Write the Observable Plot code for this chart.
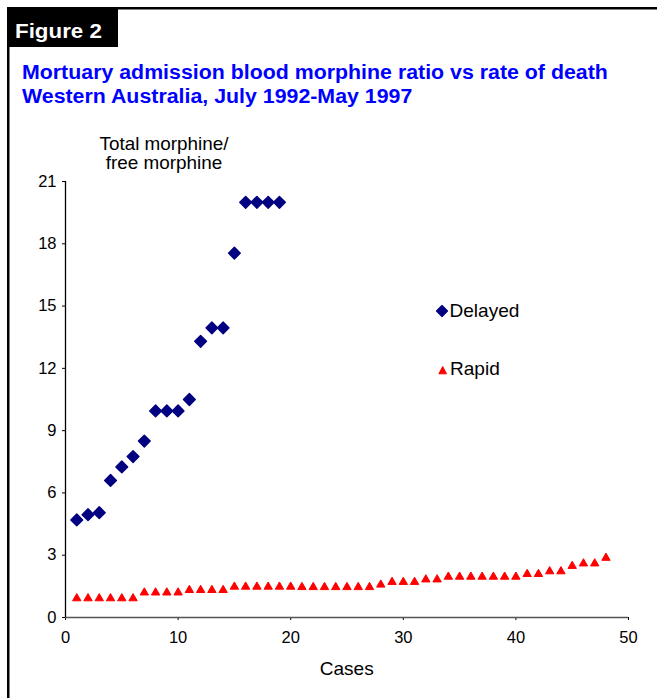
<!DOCTYPE html>
<html><head><meta charset="utf-8">
<script src="https://cdn.jsdelivr.net/npm/d3@7"></script>
<script src="https://cdn.jsdelivr.net/npm/@observablehq/plot@0.6"></script>
<style>
body{margin:0;background:#fff;}
#wrap{position:relative;width:657px;height:698px;overflow:hidden;font-family:"Liberation Sans",Arial,sans-serif;}
#chart{position:absolute;left:0;top:0;}
#overlay{position:absolute;left:0;top:0;pointer-events:none;}
</style></head>
<body>
<div id="wrap"><div id="chart"></div>
<svg id="overlay" width="657" height="698" xmlns="http://www.w3.org/2000/svg" font-family="Liberation Sans, Arial, sans-serif">
  <rect x="7" y="7" width="650" height="2.5" fill="#000"/>
  <rect x="7" y="7" width="2.5" height="691" fill="#000"/>
  <rect x="7" y="7" width="111" height="40" fill="#000"/>
  <text transform="translate(15,37.5) scale(1.09,1)" fill="#fff" font-weight="bold" font-size="20.5">Figure 2</text>
  <text transform="translate(22,79) scale(1.095,1)" fill="#0000ff" font-weight="bold" font-size="19.5">Mortuary admission blood morphine ratio vs rate of death</text>
  <text transform="translate(22,103) scale(1.095,1)" fill="#0000ff" font-weight="bold" font-size="19.5">Western Australia, July 1992-May 1997</text>
  <text transform="translate(164,150) scale(1.08,1)" text-anchor="middle" fill="#000" font-size="17.5">Total morphine/</text>
  <text transform="translate(164,169) scale(1.08,1)" text-anchor="middle" fill="#000" font-size="17.5">free morphine</text>
  <text transform="translate(346.7,675) scale(1.09,1)" text-anchor="middle" fill="#000" font-size="17.5">Cases</text>
  <path d="M442,305.5L447.5,311L442,316.5L436.5,311Z" fill="#000080" stroke="#000080" stroke-width="1.2" stroke-linejoin="round"/>
  <text transform="translate(449.5,316.5) scale(1.09,1)" fill="#000" font-size="17.5">Delayed</text>
  <path d="M442.7,366.5L446.5,373.8L438.9,373.8Z" fill="#ff0000" stroke="#ff0000" stroke-width="1" stroke-linejoin="round"/>
  <text transform="translate(450,375) scale(1.09,1)" fill="#000" font-size="17.5">Rapid</text>
</svg>
</div>
<script>
// Delayed death cases
const delayedCase = [1,2,3,4,5,6,7,8,9,10,11,12,13,14,15,16,17,18,19];
const delayedRatio = [4.7,4.95,5.05,6.6,7.25,7.75,8.5,9.95,9.95,9.95,10.5,13.3,13.95,13.95,17.55,20,20,20,20];
// Rapid death cases
const rapidCase = [1,2,3,4,5,6,7,8,9,10,11,12,13,14,15,16,17,18,19,20,21,22,23,24,25,26,27,28,29,30,31,32,33,34,35,36,37,38,39,40,41,42,43,44,45,46,47,48];
const rapidRatio = [0.92,0.92,0.92,0.92,0.92,0.92,1.2,1.2,1.2,1.2,1.32,1.32,1.32,1.32,1.48,1.48,1.48,1.48,1.48,1.48,1.46,1.46,1.46,1.46,1.46,1.46,1.46,1.58,1.71,1.71,1.71,1.83,1.83,1.96,1.96,1.96,1.96,1.96,1.96,1.96,2.09,2.09,2.22,2.22,2.48,2.6,2.6,2.87];
const xTicks = [0,10,20,30,40,50];
const yTicks = [0,3,6,9,12,15,18,21];

const delayed = delayedCase.map((c,i)=>({case:c, ratio:delayedRatio[i]}));
const rapid = rapidCase.map((c,i)=>({case:c, ratio:rapidRatio[i]}));

const chart = Plot.plot({
  width: 657, height: 698,
  marginLeft: 65, marginRight: 29, marginTop: 181, marginBottom: 81,
  style: {fontFamily: "Liberation Sans, Arial, sans-serif", fontSize: "16.5px", color: "#000", background: "transparent"},
  x: {domain: [0,50], ticks: xTicks, tickSize: 3, tickPadding: 11, label: null},
  y: {domain: [0,21], ticks: yTicks, tickSize: 3, tickPadding: 6, label: null},
  marks: [
    Plot.ruleY([0], {x1: 0, x2: 50, stroke: "#555", strokeWidth: 1.3}),
    Plot.ruleX([0], {y1: 0, y2: 21, stroke: "#000", strokeWidth: 1.3}),
    Plot.dot(rapid, {x: "case", y: "ratio", symbol: "triangle", r: 3.1, fill: "#ff0000", stroke: "#ff0000", strokeWidth: 1, strokeLinejoin: "round"}),
    Plot.dot(delayed, {x: "case", y: "ratio", symbol: "diamond2", r: 5.3, fill: "#000080", stroke: "#000080", strokeWidth: 1.4, strokeLinejoin: "round"})
  ]
});
document.getElementById("chart").appendChild(chart);
</script>
</body></html>
